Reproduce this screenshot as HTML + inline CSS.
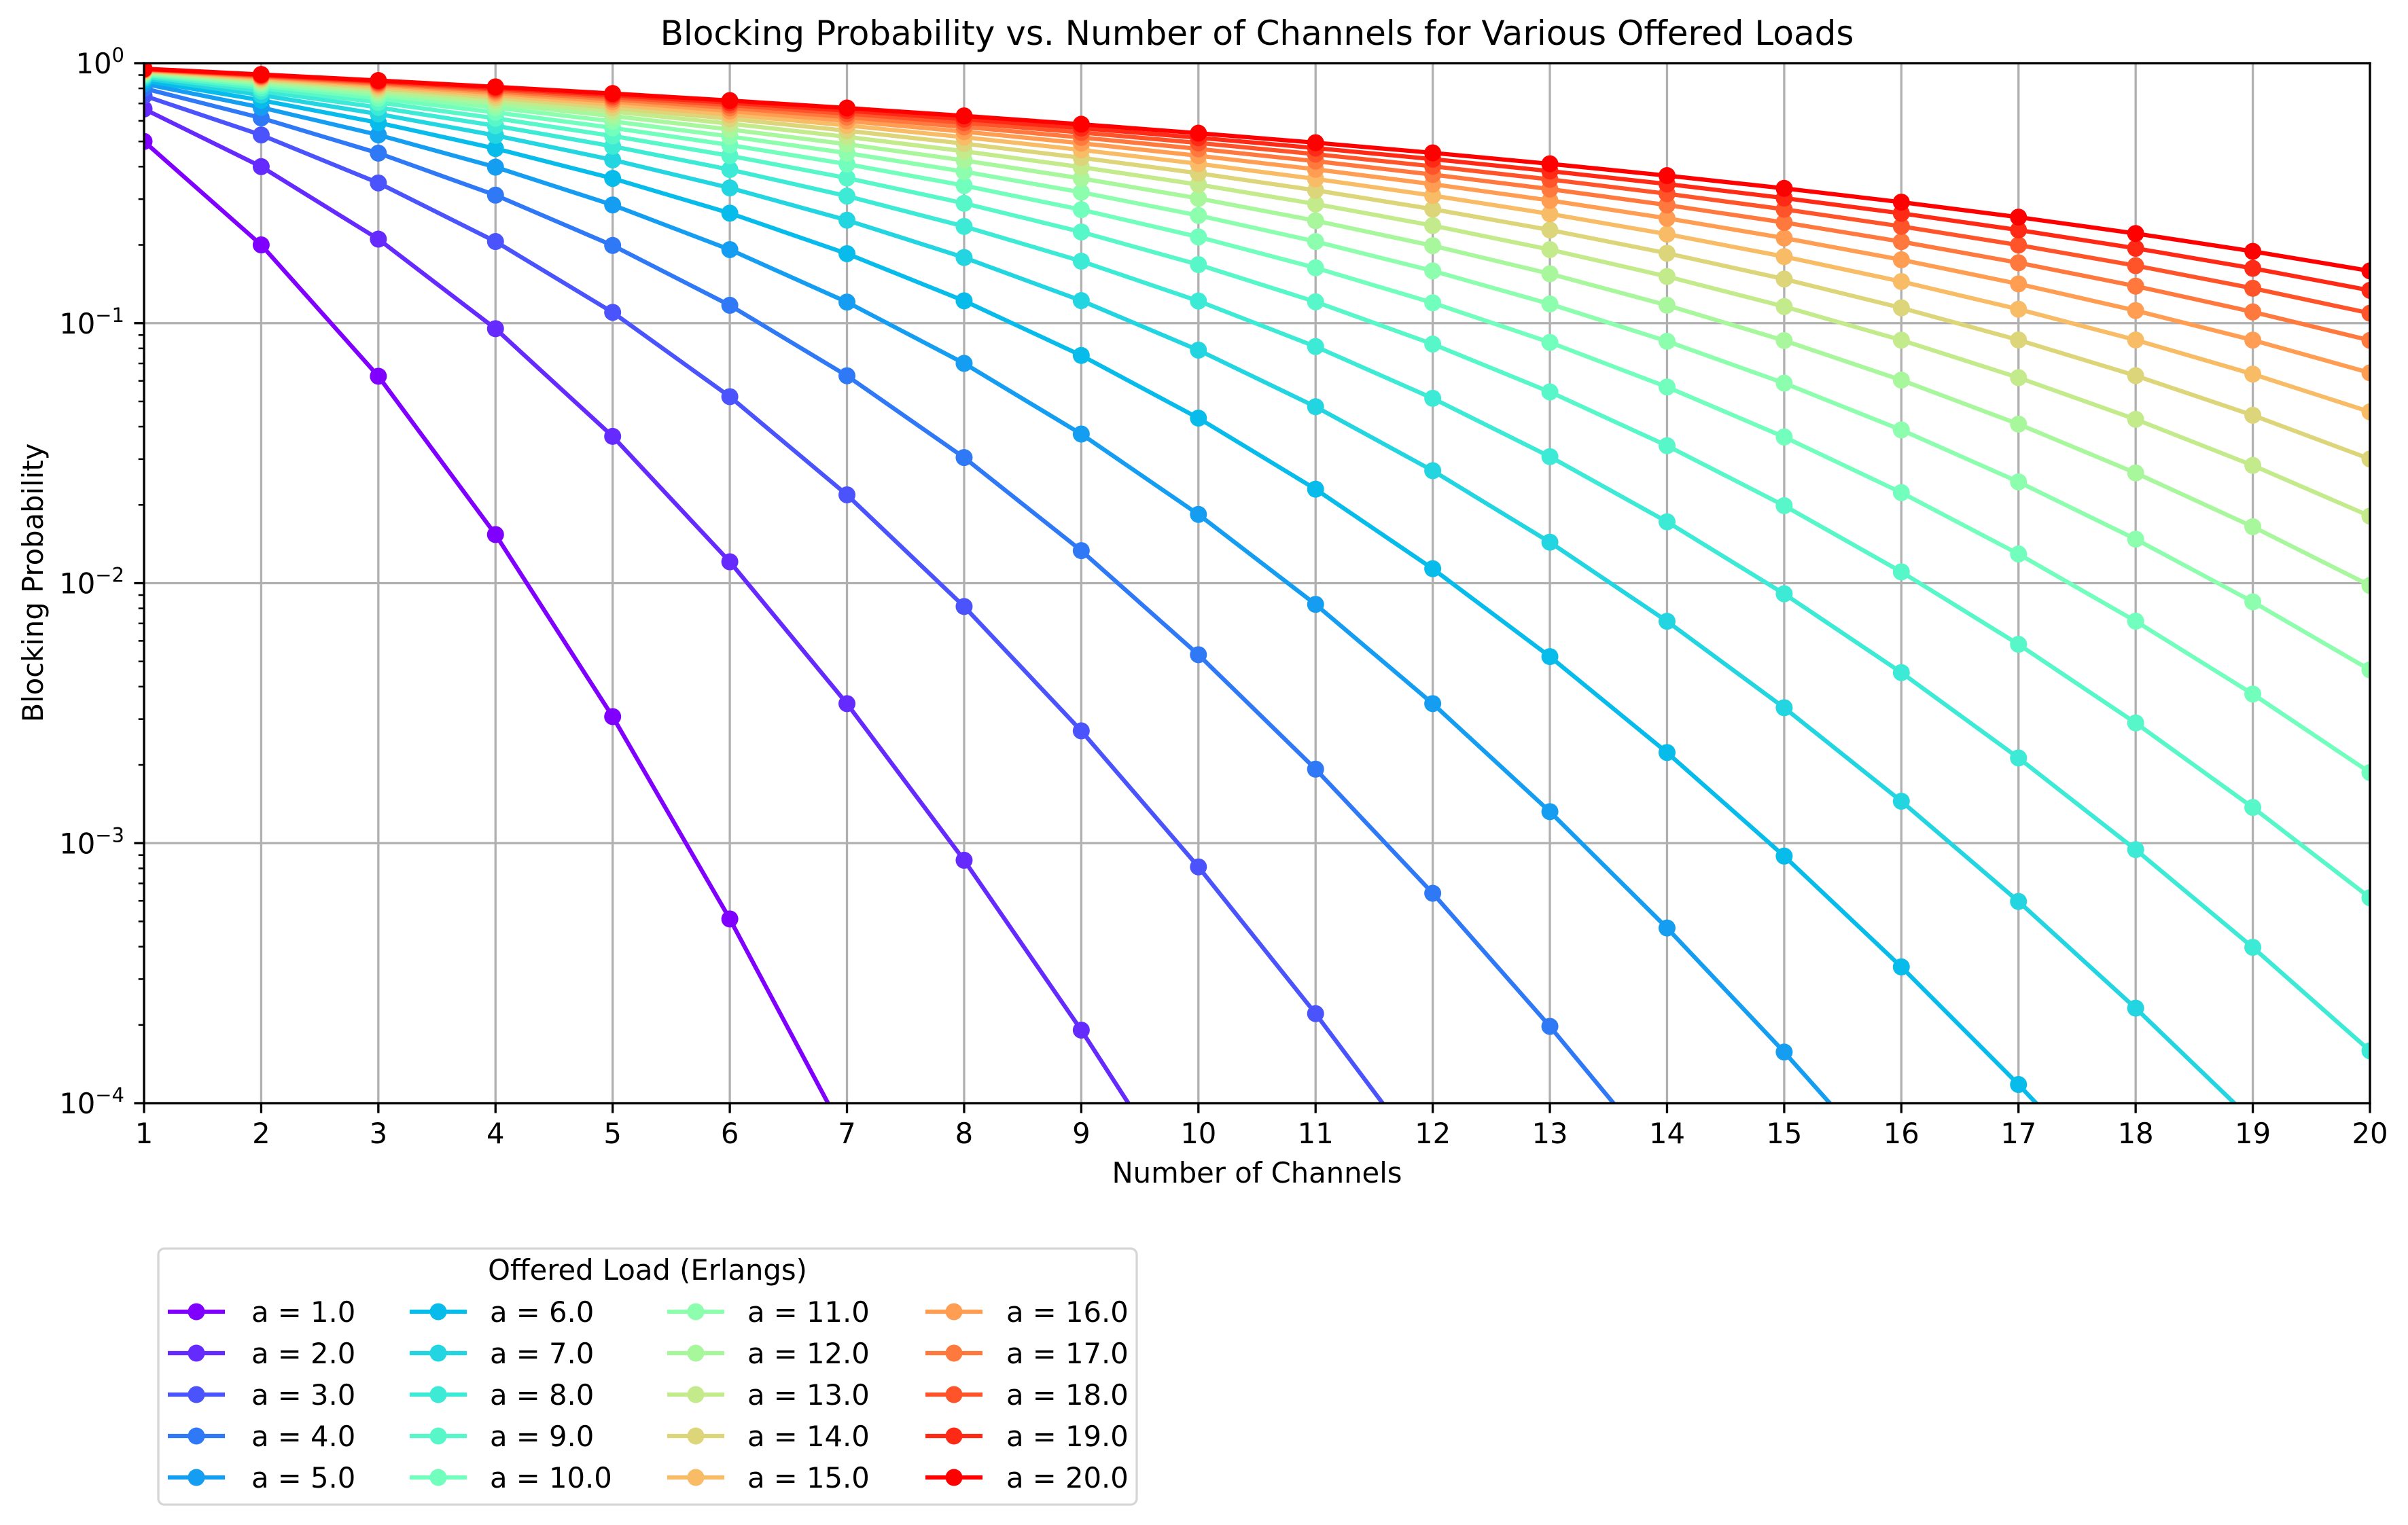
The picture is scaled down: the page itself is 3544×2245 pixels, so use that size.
<!DOCTYPE html>
<html>
<head>
<meta charset="utf-8">
<style>
  html, body { margin:0; padding:0; background:#ffffff; width:3544px; height:2245px; overflow:hidden; position:relative; }
  svg { display:block; position:absolute; left:0; top:0; overflow:hidden; font-family: "DejaVu Sans", "Liberation Sans", sans-serif; }
</style>
</head>
<body>
<svg id="chart" xmlns="http://www.w3.org/2000/svg" width="3544" height="2245" viewBox="0 0 3544 2245">
  <rect x="0" y="0" width="3544" height="2245" fill="#ffffff"/>
  <defs>
    <clipPath id="plotClip"><rect x="212" y="93" width="3276" height="1531"/></clipPath>
  </defs>
  <g id="grid"></g>
  <g id="series" clip-path="url(#plotClip)"></g>
  <g id="axes"></g>
  <text x="1850" y="66" font-size="50" text-anchor="middle" fill="#000">Blocking Probability vs. Number of Channels for Various Offered Loads</text>
  <text x="1850" y="1741" font-size="41.7" text-anchor="middle" fill="#000">Number of Channels</text>
  <text x="0" y="0" font-size="41.7" text-anchor="middle" fill="#000" transform="translate(63,858) rotate(-90)">Blocking Probability</text>
  <g id="legend">
    <rect x="233" y="1838" width="1440" height="377" rx="9" ry="9" fill="#ffffff" fill-opacity="0.8" stroke="#d6d6d6" stroke-width="3.3"/>
    <text x="953" y="1884" font-size="41.7" text-anchor="middle" fill="#000">Offered Load (Erlangs)</text>
  </g>
</svg>
<script>
// ---- data ----
const channels = [1,2,3,4,5,6,7,8,9,10,11,12,13,14,15,16,17,18,19,20];
const offeredLoads = [1,2,3,4,5,6,7,8,9,10,11,12,13,14,15,16,17,18,19,20];
const yTickExponents = [0,-1,-2,-3,-4];
const xTickLabels = ["1","2","3","4","5","6","7","8","9","10","11","12","13","14","15","16","17","18","19","20"];

const blockA1  = [0.5,0.2,0.0625,0.01538,0.003067,5.11e-4,7.3e-5,9.12e-6,1.01e-6,1.01e-7,9.2e-9,7.7e-10,5.9e-11,4.2e-12,2.8e-13,1.76e-14,1.04e-15,5.7e-17,3.0e-18,1.5e-19];
const blockA2  = [0.6667,0.4,0.2105,0.09524,0.0367,0.012085,0.003441,8.595e-4,1.9096e-4,3.819e-5,6.94e-6,1.157e-6,1.78e-7,2.54e-8,3.39e-9,4.24e-10,5.0e-11,5.5e-12,5.8e-13,5.8e-14];
const blockA3  = [0.75,0.5294,0.3462,0.2061,0.11005,0.05216,0.021864,0.008132,0.0027034,8.104e-4,2.2096e-4,5.524e-5,1.275e-5,2.73e-6,5.46e-7,1.02e-7,1.81e-8,3.0e-9,4.76e-10,7.1e-11];
const blockA4  = [0.8,0.6154,0.4507,0.3107,0.19907,0.11716,0.06275,0.030419,0.013339,0.005307,0.0019262,6.417e-4,1.974e-4,5.64e-5,1.504e-5,3.76e-6,8.85e-7,1.97e-7,4.14e-8,8.3e-9];
const blockA5  = [0.8333,0.6757,0.5297,0.3983,0.2849,0.19185,0.12052,0.070048,0.037458,0.018385,0.008287,0.003441,0.0013217,4.718e-4,1.5725e-4,4.914e-5,1.445e-5,4.01e-6,1.056e-6,2.64e-7];
const blockA6  = [0.8571,0.72,0.5902,0.4696,0.3604,0.26492,0.18505,0.12188,0.075145,0.043142,0.022991,0.011365,0.005218,0.0022312,8.917e-4,3.3428e-4,1.1797e-4,3.932e-5,1.2417e-5,3.725e-6];
const blockA7  = [0.875,0.7538,0.6376,0.5273,0.4247,0.33133,0.24887,0.17882,0.1221,0.078741,0.047717,0.027081,0.014372,0.007135,0.0033186,0.0014498,5.966e-4,2.3196e-4,8.546e-5,2.991e-5];
const blockA8  = [0.8889,0.7805,0.6755,0.5746,0.479,0.38975,0.30817,0.23557,0.17314,0.12166,0.081288,0.051406,0.030664,0.017221,0.0091009,0.0045298,0.0021272,9.445e-4,3.975e-4,1.5899e-4];
const blockA9  = [0.9,0.802,0.7064,0.6138,0.5249,0.44052,0.36159,0.28916,0.2243,0.16796,0.12082,0.083087,0.054393,0.033786,0.019868,0.011053,0.0058173,0.0029002,0.0013719,6.17e-4];
const blockA10 = [0.9091,0.8197,0.7321,0.6467,0.564,0.48452,0.40904,0.33832,0.27321,0.21458,0.16323,0.11974,0.084339,0.056819,0.036497,0.022302,0.012949,0.0071425,0.0037452,0.0018691];
const blockA11 = [0.9167,0.8345,0.7537,0.6745,0.5974,0.52274,0.45098,0.38275,0.31871,0.25958,0.20608,0.15889,0.11852,0.085186,0.058797,0.038852,0.024523,0.014765,0.0084758,0.0046402];
const blockA12 = [0.9231,0.8471,0.7721,0.6985,0.6263,0.55609,0.48804,0.42265,0.36043,0.30193,0.24777,0.19857,0.1549,0.11721,0.085729,0.060413,0.0409,0.026543,0.016488,0.0097956];
const blockA13 = [0.9286,0.8579,0.788,0.7192,0.6516,0.58536,0.52086,0.45841,0.39837,0.34118,0.28735,0.2374,0.19185,0.15121,0.11586,0.08604,0.061734,0.042683,0.028375,0.01811];
const blockA14 = [0.9333,0.8673,0.8019,0.7373,0.6737,0.61118,0.55003,0.49046,0.43276,0.37729,0.32441,0.27456,0.2282,0.1858,0.14779,0.11451,0.086174,0.062814,0.044236,0.030035];
const blockA15 = [0.9375,0.8755,0.814,0.7532,0.6932,0.63411,0.57606,0.51926,0.46393,0.41034,0.35879,0.30963,0.26322,0.21998,0.18032,0.1446,0.11315,0.086169,0.063695,0.045593];
const blockA16 = [0.9412,0.8828,0.8248,0.7674,0.7106,0.65458,0.59939,0.5452,0.49219,0.44056,0.39055,0.34242,0.29649,0.25309,0.21257,0.17531,0.14163,0.11182,0.086057,0.064411];
const blockA17 = [0.9444,0.8892,0.8344,0.78,0.7262,0.67294,0.62039,0.56866,0.51787,0.46819,0.41981,0.37294,0.32781,0.28472,0.24396,0.20585,0.17071,0.13884,0.1105,0.085861];
const blockA18 = [0.9474,0.895,0.843,0.7914,0.7402,0.6895,0.63938,0.58993,0.54125,0.49348,0.44675,0.40124,0.35715,0.31469,0.27412,0.23569,0.19972,0.16647,0.13623,0.10921];
const blockA19 = [0.95,0.9002,0.8508,0.8016,0.7529,0.7045,0.65662,0.60929,0.56261,0.51666,0.47158,0.42748,0.38453,0.34291,0.30282,0.26449,0.22816,0.19409,0.16254,0.13376];
const blockA20 = [0.9524,0.905,0.8578,0.8109,0.7644,0.71814,0.67233,0.62698,0.58216,0.53796,0.49447,0.45179,0.41005,0.3694,0.33,0.29203,0.25571,0.22126,0.18891,0.15889];

const seriesValues = [blockA1,blockA2,blockA3,blockA4,blockA5,blockA6,blockA7,blockA8,blockA9,blockA10,
                      blockA11,blockA12,blockA13,blockA14,blockA15,blockA16,blockA17,blockA18,blockA19,blockA20];

// ---- layout ----
const NS = "http://www.w3.org/2000/svg";
const PL = 212, PR = 3488, PT = 93, PB = 1624;
const X_MIN = 1, X_MAX = 20, LOG_MIN = -4, LOG_MAX = 0;
function xScale(n){ return PL + (n - X_MIN) / (X_MAX - X_MIN) * (PR - PL); }
function yScale(v){ return PB - (Math.log10(v) - LOG_MIN) / (LOG_MAX - LOG_MIN) * (PB - PT); }
function clip01(v){ return Math.max(0, Math.min(1, v)); }
function rainbow(t){
  const r = clip01(Math.abs(2*t - 0.5)), g = clip01(Math.sin(Math.PI*t)), b = clip01(Math.cos(Math.PI*t/2));
  const h = v => Math.round(v*255).toString(16).padStart(2,'0');
  return '#' + h(r) + h(g) + h(b);
}
function mk(tag, attrs, parent){
  const e = document.createElementNS(NS, tag);
  for (const k in attrs) e.setAttribute(k, attrs[k]);
  parent.appendChild(e);
  return e;
}
const gGrid = document.getElementById('grid');
const gSeries = document.getElementById('series');
const gAxes = document.getElementById('axes');
const gLegend = document.getElementById('legend');

// grid
channels.forEach((n) => {
  const x = xScale(n);
  const l = mk('line', {x1:x, y1:PT, x2:x, y2:PB, stroke:'#b0b0b0', 'stroke-width':3.3}, gGrid);
  
  
});
yTickExponents.forEach((e) => {
  const y = yScale(Math.pow(10, e));
  const l = mk('line', {x1:PL, y1:y, x2:PR, y2:y, stroke:'#b0b0b0', 'stroke-width':3.3}, gGrid);
  
  
});

// series
const colors = offeredLoads.map((a, i) => rainbow(i / (offeredLoads.length - 1)));
seriesValues.forEach((vals, i) => {
  const g = mk('g', {}, gSeries);
  
  
  const visible = [];
  vals.forEach((v, j) => {
    if (j === 0 || yScale(vals[j-1]) <= PB) visible.push([xScale(channels[j]), yScale(v)]);
  });
  const pts = visible.map(p => p[0].toFixed(2) + ',' + p[1].toFixed(2)).join(' ');
  const pl = mk('polyline', {points:pts, fill:'none', stroke:colors[i], 'stroke-width':6.25, 'stroke-linejoin':'round', 'stroke-linecap':'square'}, g);
  
  
  vals.forEach((v, j) => {
    const y = yScale(v);
    if (y > PB + 20) return;
    const c = mk('circle', {cx:xScale(channels[j]), cy:y, r:12.5, fill:colors[i]}, g);
    
    
  });
});

// spines
[[PL,PT,PR,PT],[PL,PB,PR,PB],[PL,PT,PL,PB],[PR,PT,PR,PB]].forEach((s) => {
  const l = mk('line', {x1:s[0], y1:s[1], x2:s[2], y2:s[3], stroke:'#000', 'stroke-width':3.3, 'stroke-linecap':'square'}, gAxes);
  
  
});

// x ticks
channels.forEach((n, i) => {
  const x = xScale(n);
  const t = mk('line', {x1:x, y1:PB, x2:x, y2:PB+14.6, stroke:'#000', 'stroke-width':3.3}, gAxes);
  
  
  const lab = mk('text', {x:x, y:1683, 'font-size':41.7, 'text-anchor':'middle', fill:'#000'}, gAxes);
  lab.textContent = xTickLabels[i];
  
  
});

// y ticks (major + minor)
yTickExponents.forEach((e) => {
  const y = yScale(Math.pow(10, e));
  const t = mk('line', {x1:PL-14.6, y1:y, x2:PL, y2:y, stroke:'#000', 'stroke-width':3.3}, gAxes);
  
  
  const lab = mk('text', {x:183, y:y+15, 'font-size':41.7, 'text-anchor':'end', fill:'#000'}, gAxes);
  
  
  const base = document.createElementNS(NS, 'tspan');
  base.textContent = '10';
  lab.appendChild(base);
  const sup = document.createElementNS(NS, 'tspan');
  sup.setAttribute('dy', -17);
  sup.setAttribute('font-size', 29);
  sup.textContent = e === 0 ? '0' : '\u2212' + Math.abs(e);
  lab.appendChild(sup);
  if (e > LOG_MIN) {
    for (let m = 2; m <= 9; m++) {
      const ym = yScale(m * Math.pow(10, e - 1));
      const mt = mk('line', {x1:PL-8.3, y1:ym, x2:PL, y2:ym, stroke:'#000', 'stroke-width':2.5}, gAxes);
      
      
    }
  }
});

// legend
const legendHandleCenters = [289, 645, 1024, 1404];
const legendTextX = [370, 721, 1100, 1481];
const legendRowY = [1931, 1992, 2053, 2114, 2175];
offeredLoads.forEach((a, i) => {
  const col = Math.floor(i / 5), row = i % 5;
  const cx = legendHandleCenters[col], cy = legendRowY[row];
  const g = mk('g', {}, gLegend);
  
  
  mk('line', {x1:cx-42, y1:cy, x2:cx+42, y2:cy, stroke:colors[i], 'stroke-width':6.25}, g);
  mk('circle', {cx:cx, cy:cy, r:12.5, fill:colors[i]}, g);
  const t = mk('text', {x:legendTextX[col], y:cy+15, 'font-size':41.7, fill:'#000'}, g);
  t.textContent = 'a = ' + a.toFixed(1);
});
</script>
</body>
</html>
